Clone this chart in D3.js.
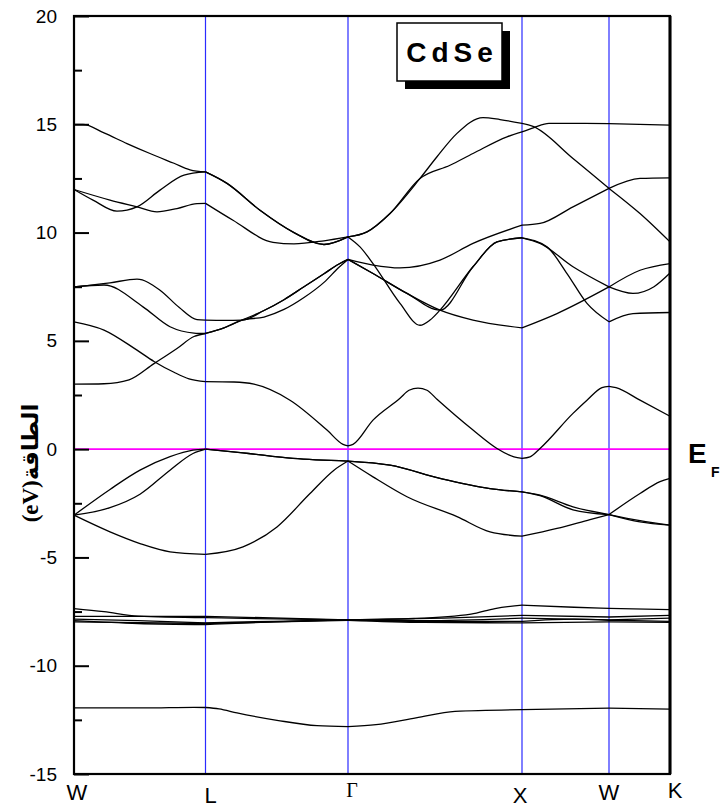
<!DOCTYPE html>
<html><head><meta charset="utf-8">
<script src="https://cdn.jsdelivr.net/npm/d3@7"></script>
<style>body{margin:0;background:#fff}</style>
</head><body><svg id="c" width="725" height="807"></svg>
<script>
// ---- data ----
const kLabels = ["W", "L", "Γ", "X", "W", "K"];
const kPositions = [0, 1.315, 2.74, 4.48, 5.35, 5.96];
const yTicks = [-15, -10, -5, 0, 5, 10, 15, 20];
const yMinorTicks = [-12.5, -7.5, -2.5, 2.5, 7.5, 12.5, 17.5];
const fermiLevel = 0;
const compound = "CdSe";
const yTitle = "(eV)الطاقة";

// Se 4s band
const s4s = [[0,-11.95],[0.7,-11.95],[1.2,-11.92],[1.315,-11.93],[1.45,-11.99],[1.63,-12.18],[2.03,-12.52],[2.43,-12.77],[2.74,-12.81],[3.02,-12.72],[3.42,-12.41],[3.81,-12.11],[4.48,-12.03],[5.35,-11.96],[5.96,-12.0]];
// Cd 4d bands
const d1 = [[0,-7.36],[0.3,-7.5],[0.64,-7.71],[1.315,-7.78],[2.0,-7.84],[2.74,-7.88],[3.4,-7.82],[3.97,-7.62],[4.21,-7.36],[4.48,-7.2],[5.0,-7.3],[5.35,-7.35],[5.96,-7.41]];
const d2 = [[0,-7.72],[1.315,-7.72],[2.74,-7.88],[3.7,-7.8],[4.48,-7.68],[5.35,-7.75],[5.96,-7.68]];
const d3b = [[0,-7.85],[0.64,-7.92],[1.315,-8.02],[2.0,-7.95],[2.74,-7.88],[3.5,-7.92],[4.48,-7.8],[5.35,-7.88],[5.96,-7.8]];
const d4 = [[0,-7.92],[0.64,-8.05],[1.315,-8.1],[2.0,-7.98],[2.74,-7.88],[3.5,-7.95],[4.48,-7.95],[5.0,-7.85],[5.35,-7.9],[5.96,-7.95]];
const d5 = [[0,-7.98],[1.315,-8.05],[2.74,-7.9],[3.5,-8.0],[4.48,-8.02],[5.35,-7.98],[5.96,-8.0]];
// valence bands
const vb1 = [[0,-3.05],[0.36,-1.86],[0.66,-0.97],[0.96,-0.35],[1.19,-0.05],[1.315,0],[1.69,-0.17],[2.19,-0.43],[2.74,-0.55],[3.16,-0.74],[3.66,-1.35],[4.16,-1.82],[4.48,-1.97],[4.66,-2.12],[4.99,-2.66],[5.35,-3.02],[5.66,-3.36],[5.96,-3.51]];
const vb2 = [[0,-3.05],[0.36,-2.7],[0.66,-2.08],[0.96,-0.97],[1.19,-0.2],[1.315,0],[1.69,-0.17],[2.19,-0.43],[2.74,-0.55],[3.16,-0.74],[3.66,-1.35],[4.16,-1.82],[4.48,-1.97],[4.66,-2.15],[4.99,-2.8],[5.35,-3.02],[5.66,-3.3],[5.96,-3.51]];
const vb3 = [[0,-3.05],[0.36,-3.82],[0.66,-4.36],[0.96,-4.74],[1.315,-4.86],[1.69,-4.51],[2.03,-3.59],[2.36,-2.05],[2.6,-0.97],[2.74,-0.55],[2.99,-1.28],[3.33,-2.2],[3.83,-3.12],[4.16,-3.82],[4.48,-4.02],[4.83,-3.66],[5.16,-3.25],[5.35,-3.02],[5.66,-2.05],[5.86,-1.5],[5.96,-1.35]];
// conduction bands
const cb1 = [[0,5.88],[0.3,5.5],[0.63,4.57],[0.8,4.05],[1.0,3.55],[1.15,3.25],[1.315,3.12],[1.6,3.1],[1.8,3.0],[2.16,2.26],[2.53,0.88],[2.69,0.22],[2.74,0.15],[2.79,0.22],[2.99,1.34],[3.26,2.35],[3.35,2.72],[3.44,2.82],[3.53,2.72],[3.63,2.3],[3.99,0.88],[4.23,0.03],[4.4,-0.36],[4.48,-0.43],[4.56,-0.36],[4.66,0.03],[4.99,1.65],[5.13,2.26],[5.28,2.84],[5.35,2.9],[5.42,2.84],[5.66,2.26],[5.96,1.52]];
const cb2 = [[0,3.0],[0.3,3.02],[0.55,3.2],[0.8,3.95],[1.03,4.65],[1.2,5.2],[1.315,5.34],[1.5,5.6],[1.68,5.96],[1.9,6.4],[2.1,6.9],[2.3,7.5],[2.5,8.1],[2.65,8.55],[2.74,8.76],[2.99,8.5],[3.26,8.37],[3.66,8.73],[3.99,9.5],[4.48,10.34],[4.66,10.42],[4.99,11.19],[5.35,12.04],[5.66,12.5],[5.96,12.53]];
const cb3 = [[0,7.49],[0.3,7.58],[0.69,6.57],[0.96,5.65],[1.2,5.36],[1.315,5.34],[1.5,5.6],[1.68,5.96],[1.9,6.1],[2.1,6.45],[2.3,7.0],[2.5,7.7],[2.65,8.4],[2.74,8.76],[2.99,8.11],[3.33,7.19],[3.66,6.42],[3.99,5.96],[4.48,5.6],[4.83,6.26],[5.35,7.49],[5.66,8.26],[5.96,8.57]];
const cb4 = [[0,7.49],[0.36,7.68],[0.63,7.85],[0.86,7.34],[1.05,6.55],[1.23,5.98],[1.315,5.96],[1.5,5.95],[1.68,5.96],[1.9,6.4],[2.1,6.9],[2.3,7.5],[2.5,8.1],[2.65,8.55],[2.74,8.76],[2.99,8.11],[3.33,7.19],[3.66,6.42],[3.99,8.42],[4.23,9.57],[4.48,9.76],[4.73,9.34],[4.93,8.11],[5.13,6.73],[5.35,5.88],[5.59,6.26],[5.96,6.31]];
const cb5 = [[0,11.99],[0.36,11.5],[0.63,11.19],[0.83,10.96],[1.03,11.11],[1.23,11.34],[1.315,11.35],[1.59,10.57],[1.99,9.55],[2.2,9.48],[2.5,9.62],[2.74,9.8],[2.86,9.34],[2.99,8.57],[3.26,6.73],[3.46,5.72],[3.56,5.96],[3.66,6.42],[3.99,8.42],[4.23,9.57],[4.48,9.76],[4.66,9.5],[4.99,8.42],[5.35,7.49],[5.59,7.19],[5.8,7.5],[5.96,8.13]];
const cb6 = [[0,11.99],[0.19,11.5],[0.43,10.99],[0.63,11.19],[0.86,11.96],[1.1,12.65],[1.315,12.8],[1.53,12.27],[1.86,11.03],[2.2,10.0],[2.5,9.45],[2.74,9.8],[2.93,10.03],[3.16,10.88],[3.46,12.5],[3.63,13.5],[3.83,14.58],[4.09,15.31],[4.26,15.22],[4.48,15.04],[4.59,14.9],[4.99,13.42],[5.35,12.04],[5.66,10.88],[5.96,9.57]];
const cb7 = [[0,15.0],[0.09,15.0],[0.3,14.6],[0.53,14.11],[0.76,13.65],[1.0,13.2],[1.16,12.9],[1.315,12.8],[1.53,12.27],[1.86,11.03],[2.2,10.0],[2.5,9.45],[2.74,9.8],[2.93,10.03],[3.16,10.88],[3.46,12.5],[3.76,13.11],[3.99,13.65],[4.33,14.42],[4.48,14.65],[4.6,14.85],[4.75,15.04],[5.0,15.04],[5.35,15.03],[5.96,14.96]];

const bands = [s4s, d1, d2, d3b, d4, d5, vb1, vb2, vb3, cb1, cb2, cb3, cb4, cb5, cb6, cb7];

// ---- drawing ----
(function draw() {
const svg = d3.select("#c");
const pL = 74, pR = 670, pT = 16, pB = 774;
const x = d3.scaleLinear().domain([kPositions[0], kPositions[kPositions.length-1]]).range([pL, pR]);
const y = d3.scaleLinear().domain([-15, 20]).range([pB, pT]);

svg.append("rect").attr("width",725).attr("height",807).attr("fill","#fff");

// symmetry lines
svg.append("g").selectAll("line").data(kPositions.slice(1, -1)).join("line")
  .attr("x1", d => x(d)).attr("x2", d => x(d))
  .attr("y1", pT).attr("y2", pB)
  .attr("stroke", "#2b2bff").attr("stroke-width", 1.2);

// Fermi level
svg.append("line").attr("x1", pL).attr("x2", pR)
  .attr("y1", y(fermiLevel)).attr("y2", y(fermiLevel))
  .attr("stroke", "#ff00ff").attr("stroke-width", 1.7);

// bands, drawn segment by segment between symmetry points
const line = d3.line().x(d => x(d[0])).y(d => y(d[1])).curve(d3.curveMonotoneX);
const gb = svg.append("g").attr("fill", "none").attr("stroke", "#000").attr("stroke-width", 1.3);
bands.forEach(b => {
  for (let i = 0; i < kPositions.length - 1; i++) {
    const seg = b.filter(p => p[0] >= kPositions[i] - 1e-9 && p[0] <= kPositions[i+1] + 1e-9);
    if (seg.length > 1) gb.append("path").attr("d", line(seg));
  }
});

// y axis
const ya = svg.append("g").attr("transform", `translate(${pL},0)`)
  .call(d3.axisLeft(y).tickValues(yTicks).tickSize(-15).tickPadding(17).tickFormat(d => String(d)));
ya.select(".domain").remove();
ya.selectAll(".tick line").attr("stroke", "#000").attr("stroke-width", 2);
ya.selectAll(".tick text").attr("font-family", "'Liberation Sans', Arial, sans-serif").attr("font-size", 19).attr("fill", "#000");
const ym = svg.append("g").attr("transform", `translate(${pL},0)`)
  .call(d3.axisLeft(y).tickValues(yMinorTicks).tickSize(-8).tickFormat(""));
ym.select(".domain").remove();
ym.selectAll(".tick line").attr("stroke", "#000").attr("stroke-width", 2);

// frame
svg.append("rect").attr("x", pL).attr("y", pT).attr("width", pR - pL).attr("height", pB - pT)
  .attr("fill", "none").attr("stroke", "#000").attr("stroke-width", 2.2);
svg.append("line").attr("x1", pR).attr("x2", pR).attr("y1", pT).attr("y2", pB)
  .attr("stroke", "#000").attr("stroke-width", 3);

// k labels
const nudgeX = [3, 5, 4, -2, 0, 5];
const baseY = [800, 803, 797, 803, 800, 798];
svg.append("g").selectAll("text").data(kLabels).join("text")
  .attr("x", (d, i) => x(kPositions[i]) + nudgeX[i])
  .attr("y", (d, i) => baseY[i])
  .attr("text-anchor", "middle")
  .attr("font-family", d => d === "Γ" ? "'Liberation Serif', 'Times New Roman', serif" : "'Liberation Sans', Arial, sans-serif")
  .attr("font-size", d => d === "Γ" ? 20 : 22)
  .text(d => d);

// E_F label
svg.append("text").attr("x", 688).attr("y", 463)
  .attr("font-family", "'Liberation Sans', Arial, sans-serif").attr("font-weight", "bold").attr("font-size", 28).text("E");
svg.append("text").attr("x", 711).attr("y", 477)
  .attr("font-family", "'Liberation Sans', Arial, sans-serif").attr("font-weight", "bold").attr("font-size", 14).text("F");

// compound box
svg.append("rect").attr("x", 405).attr("y", 31).attr("width", 105).attr("height", 58).attr("fill", "#000");
svg.append("rect").attr("x", 397).attr("y", 23).attr("width", 105).attr("height", 58)
  .attr("fill", "#fff").attr("stroke", "#000").attr("stroke-width", 1.5);
svg.append("text").attr("x", 452).attr("y", 62).attr("text-anchor", "middle")
  .attr("font-family", "'Liberation Sans', Arial, sans-serif").attr("font-weight", "bold")
  .attr("font-size", 28).attr("letter-spacing", 5).text(compound);

// y title
svg.append("text").attr("transform", "translate(38,463) rotate(-90)")
  .attr("text-anchor", "middle").attr("direction", "ltr")
  .attr("font-family", "'Liberation Serif', 'DejaVu Sans', serif").attr("font-weight", "bold")
  .attr("font-size", 23).text(yTitle);
})();
</script>
</body></html>
